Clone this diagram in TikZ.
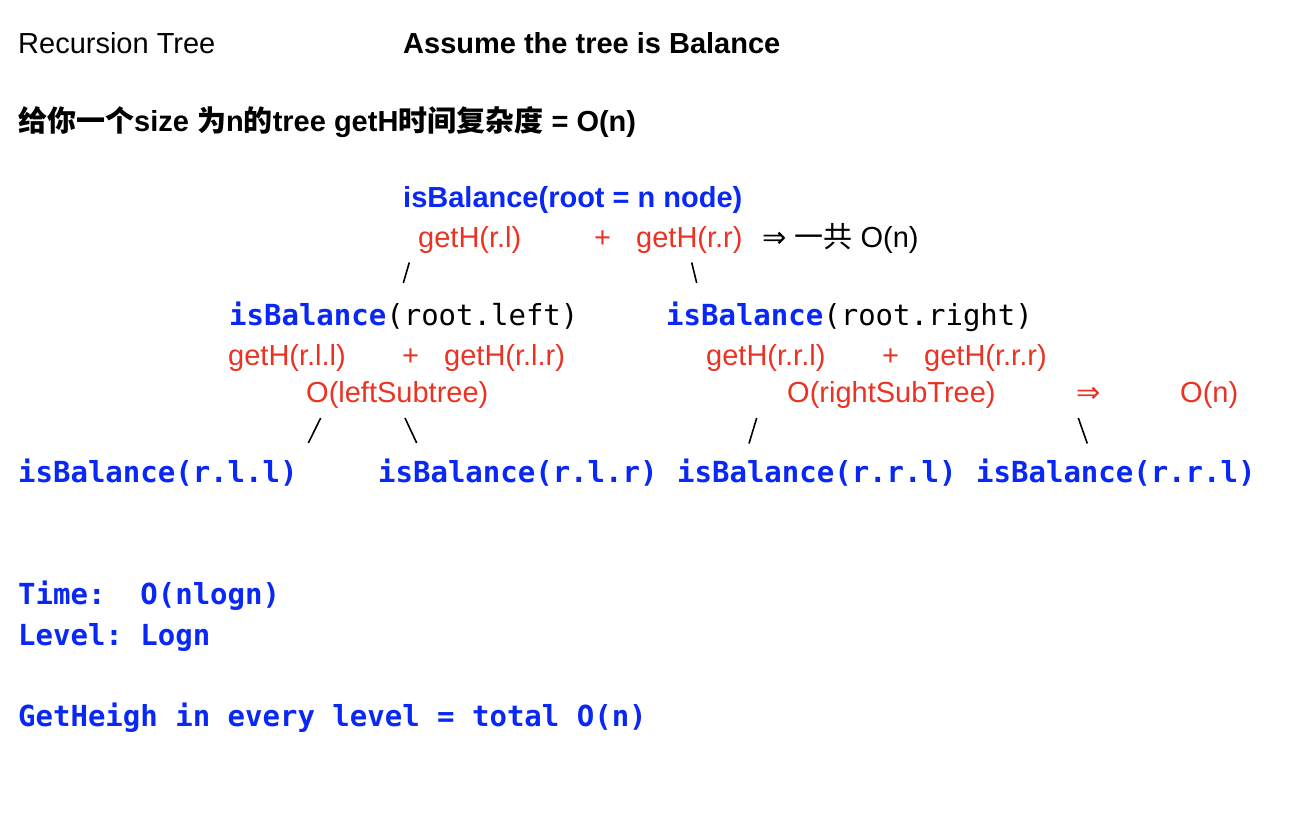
\documentclass[tikz,border=0pt]{standalone}
\usepackage{fontspec}
\setmainfont{Liberation Sans}
\newfontfamily\monof{DejaVu Sans Mono}
\newfontfamily\cjk{Noto Sans CJK SC}
\newfontfamily\symf{DejaVu Sans}
\newcommand\txtsz{\fontsize{29pt}{34pt}\selectfont}
\definecolor{codeblue}{RGB}{10,40,245}
\definecolor{costred}{RGB}{234,51,35}
\frenchspacing
\begin{document}
\begin{tikzpicture}[x=1pt,y=-1pt,
  plain/.style={inner sep=0pt, anchor=base west, font=\txtsz},
  heading/.style={plain, font=\txtsz\bfseries},
  bluesans/.style={plain, text=codeblue, font=\txtsz\bfseries},
  cost/.style={plain, text=costred},
  code/.style={plain, text=codeblue, font=\txtsz\monof\bfseries},
  edge/.style={line width=1.6pt, line cap=butt}]
\useasboundingbox[fill=white] (0,0) rectangle (1296,812);

% headings
\node[plain] (rt) at (18,53) {Recursion Tree};
\node[heading] (as) at (403,53) {Assume the tree is Balance};
\node[heading] (cn) at (18,131) {{\cjk 给你一个}size {\cjk 为}n{\cjk 的}tree getH{\cjk 时间复杂度} = O(n)};

% root call
\node[bluesans] (root) at (403,207) {isBalance(root = n node)};
\node[cost] (g1) at (418,247) {getH(r.l)};
\node[cost] (p1) at (594,247) {+};
\node[cost] (g2) at (636,247) {getH(r.r)};
\node[plain] (tot) at (762,247) {{\symf ⇒} {\cjk 一共} O(n)};

% level 1
\node[plain] (L) at (229,325) {\monof\textcolor{codeblue}{\bfseries isBalance}(root.left)};
\node[plain] (R) at (666,325) {\monof\textcolor{codeblue}{\bfseries isBalance}(root.right)};
\node[cost] (g3) at (228,365) {getH(r.l.l)};
\node[cost] (p2) at (402,365) {+};
\node[cost] (g4) at (444,365) {getH(r.l.r)};
\node[cost] (g5) at (706,365) {getH(r.r.l)};
\node[cost] (p3) at (882,365) {+};
\node[cost] (g6) at (924,365) {getH(r.r.r)};
\node[cost] (os1) at (306,402) {O(leftSubtree)};
\node[cost] (os2) at (787,402) {O(rightSubTree)};
\node[cost] (imp) at (1076,402) {{\symf ⇒}};
\node[cost] (on) at (1180,402) {O(n)};

% level 2
\node[code] (LL) at (18,482) {isBalance(r.l.l)};
\node[code] (LR) at (378,482) {isBalance(r.l.r)};
\node[code] (RL) at (677,482) {isBalance(r.r.l)};
\node[code] (RR) at (976,482) {isBalance(r.r.l)};

% tree edges
\coordinate (a1) at (409.3,262.5); \coordinate (a2) at (403.3,283);
\coordinate (b1) at (691.7,262.5); \coordinate (b2) at (696.7,283);
\coordinate (c1) at (320.7,418);   \coordinate (c2) at (308.3,443);
\coordinate (d1) at (405,418);     \coordinate (d2) at (416.7,443);
\coordinate (e1) at (756.7,418);   \coordinate (e2) at (749,443.5);
\coordinate (f1) at (1078.3,418);  \coordinate (f2) at (1087.3,443.5);
\draw[edge] (a1) -- (a2);
\draw[edge] (b1) -- (b2);
\draw[edge] (c1) -- (c2);
\draw[edge] (d1) -- (d2);
\draw[edge] (e1) -- (e2);
\draw[edge] (f1) -- (f2);

% summary
\node[code] (tm) at (18,604) {Time:\ \ O(nlogn)};
\node[code] (lv) at (18,645) {Level: Logn};
\node[code] (gh) at (18,726) {GetHeigh in every level = total O(n)};
\end{tikzpicture}
\end{document}
